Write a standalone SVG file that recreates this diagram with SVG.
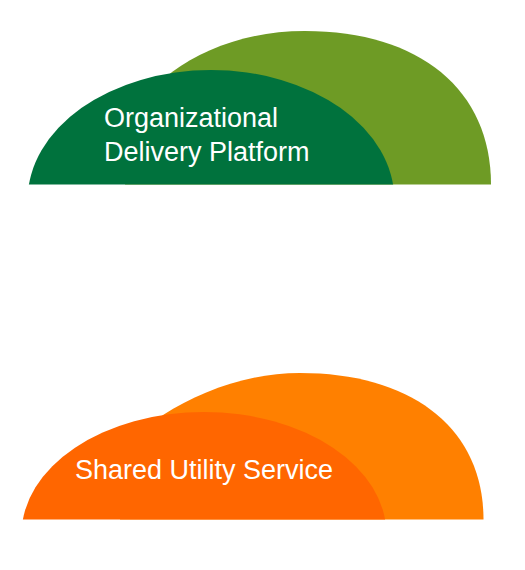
<svg xmlns="http://www.w3.org/2000/svg" width="525" height="570" viewBox="0 0 525 570">
<style>
.lbl{font-family:"Liberation Sans",Arial,sans-serif;font-size:27px;fill:#ffffff}
</style>
<defs>
<clipPath id="clipTop"><rect x="0" y="0" width="525" height="184.5"/></clipPath>
<clipPath id="clipBot"><rect x="0" y="340" width="525" height="179.5"/></clipPath>
</defs>
<rect width="525" height="570" fill="#ffffff"/>
<g id="node-organizational-delivery-platform">
<path d="M491,184.5 C491,90 420,31 305,31 C250,31 205,48 172,72 C150,90 130,130 125,184.5 Z" fill="#6E9B25"/>
<ellipse cx="211" cy="200" rx="183.4" ry="130" fill="#00723D" clip-path="url(#clipTop)"/>
<text class="lbl" x="104" y="127">Organizational</text>
<text class="lbl" x="104" y="160.5">Delivery Platform</text>
</g>
<g id="node-shared-utility-service">
<path d="M483.5,519.5 C483.5,429 413,373 300,373 C247,373 200,392 163,415 C140,435 125,470 120,519.5 Z" fill="#FF8000"/>
<ellipse cx="204" cy="534" rx="182.4" ry="122" fill="#FF6600" clip-path="url(#clipBot)"/>
<text class="lbl" x="75" y="478.5">Shared Utility Service</text>
</g>
<g id="connectors"></g>
</svg>
